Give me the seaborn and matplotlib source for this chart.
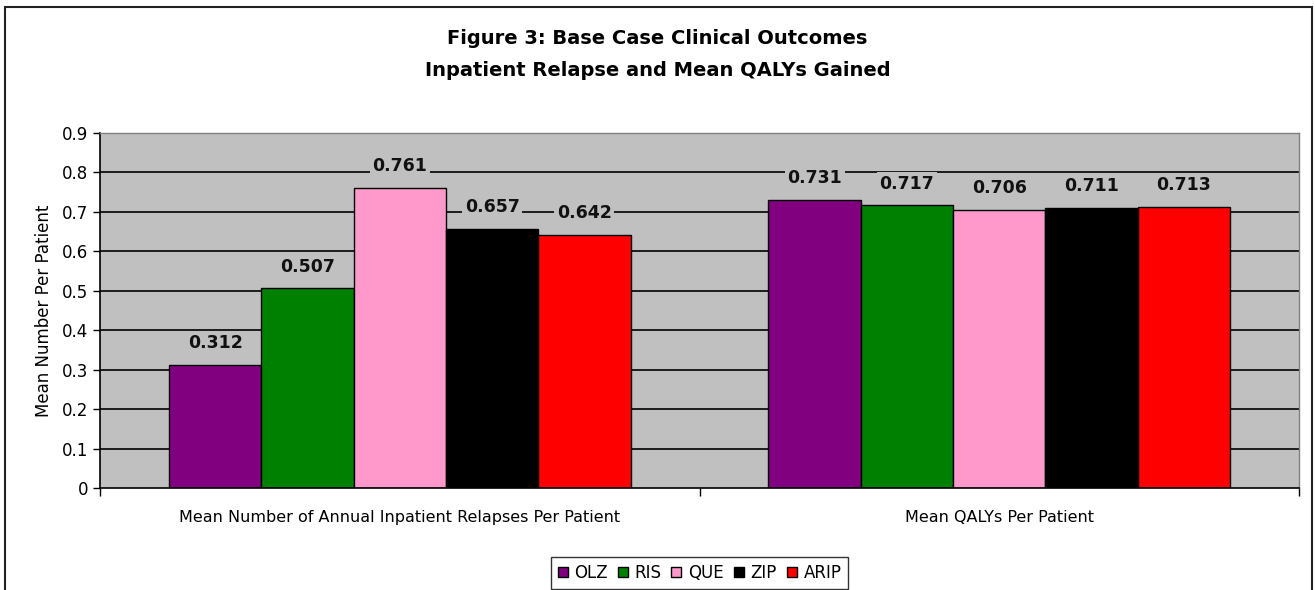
import pandas as pd
import seaborn as sns
import matplotlib.pyplot as plt
from matplotlib.patches import Rectangle

# ------------------------------------------------
# Data
# ------------------------------------------------
measures = ["Mean Number of Annual Inpatient Relapses Per Patient",
            "Mean QALYs Per Patient"]
drugs = ["OLZ", "RIS", "QUE", "ZIP", "ARIP"]
relapses = [0.312, 0.507, 0.761, 0.657, 0.642]
qalys = [0.731, 0.717, 0.706, 0.711, 0.713]
colors = ["#800080", "#008000", "#FF99CC", "#000000", "#FF0000"]
yticks = [0, 0.1, 0.2, 0.3, 0.4, 0.5, 0.6, 0.7, 0.8, 0.9]

rows = []
for d, r, q in zip(drugs, relapses, qalys):
    rows.append({"measure": measures[0], "drug": d, "value": r})
    rows.append({"measure": measures[1], "drug": d, "value": q})
data = pd.DataFrame(rows)

# ------------------------------------------------
# Plot
# ------------------------------------------------
sns.set_style("white")
plt.rcParams['font.family'] = ['DejaVu Sans']
plt.rcParams['text.color'] = 'black'
plt.rcParams['axes.labelcolor'] = 'black'
plt.rcParams['xtick.color'] = 'black'
plt.rcParams['ytick.color'] = 'black'

W, H = 1315, 590
fig = plt.figure(figsize=(W / 100, H / 100), dpi=100)
ax = fig.add_axes([100 / W, 1 - 488 / H, 1199 / W, 355 / H])
ax.set_facecolor("#C0C0C0")

# outer chart border
fig.patches.append(Rectangle((5 / W, -0.05), 1307 / W, 1.05 - 7 / H,
                             transform=fig.transFigure, fill=False,
                             edgecolor="#222222", linewidth=1.5))

for t in yticks[1:-1]:
    ax.axhline(t, color="black", linewidth=1.2, zorder=0)

sns.barplot(data=data, x="measure", y="value", hue="drug",
            hue_order=drugs, palette=colors, width=0.77, gap=0,
            edgecolor="black", linewidth=1, saturation=1, ax=ax,
            zorder=2, legend=True)

for cont in ax.containers:
    for bar in cont:
        h = bar.get_height()
        ax.annotate(f"{h:.3f}", (bar.get_x() + bar.get_width() / 2, h),
                    xytext=(0, 9), textcoords="offset points",
                    ha="center", va="bottom", fontsize=12.5,
                    fontweight="bold", color="#111111", zorder=3,
                    bbox=dict(boxstyle="square,pad=0.15", fc="#C0C0C0",
                              ec="none"))

ax.set_xlim(-0.5, 1.5)
ax.set_ylim(0, 0.9)
ax.set_yticks(yticks)
ax.set_yticklabels(["0", "0.1", "0.2", "0.3", "0.4", "0.5", "0.6",
                    "0.7", "0.8", "0.9"], fontsize=12)
ax.set_xticks([0, 1])
ax.set_xticklabels(measures, fontsize=11.5)
ax.tick_params(axis="x", length=0, pad=16)
ax.tick_params(axis="y", length=5, width=1, direction="out", left=True,
               color="black")
# category boundary ticks
ax.set_xticks([-0.5, 0.5, 1.5], minor=True)
ax.tick_params(axis="x", which="minor", length=6, width=1, bottom=True,
               color="black", direction="out")

for s in ["top", "right"]:
    ax.spines[s].set_color("#808080")
    ax.spines[s].set_linewidth(1)
for s in ["left", "bottom"]:
    ax.spines[s].set_color("black")
    ax.spines[s].set_linewidth(1.2)

ax.set_xlabel("")
ax.set_ylabel("Mean Number Per Patient", fontsize=12, labelpad=6)

ax.legend(loc="center", bbox_to_anchor=(0.5, -0.239), ncol=5,
          frameon=True, fancybox=False, edgecolor="black",
          fontsize=12, handlelength=0.6, handleheight=0.6,
          handletextpad=0.4, columnspacing=0.6, borderpad=0.4)

fig.text(0.5, 1 - 38 / H, "Figure 3: Base Case Clinical Outcomes",
         ha="center", va="center", fontsize=14, fontweight="bold")
fig.text(0.5, 1 - 70 / H, "Inpatient Relapse and Mean QALYs Gained",
         ha="center", va="center", fontsize=14, fontweight="bold")

plt.savefig("out.png", dpi=100)
plt.close(fig)
